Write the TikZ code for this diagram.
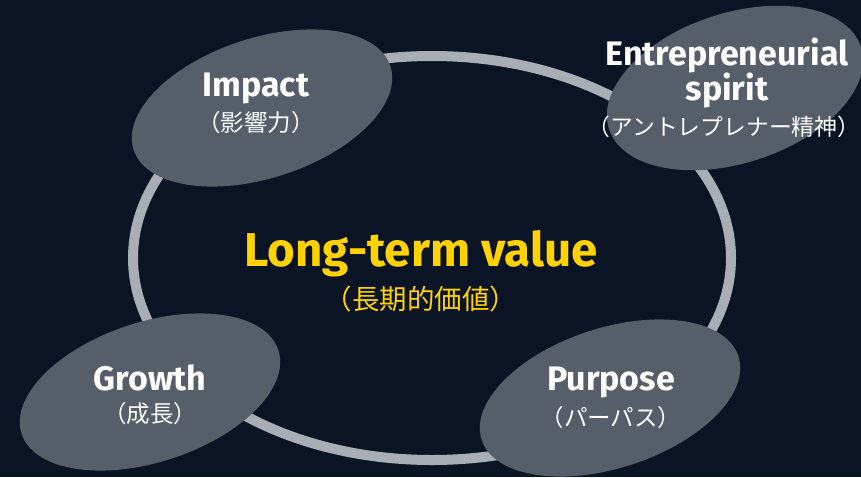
\documentclass[tikz,border=0pt]{standalone}
\usepackage{fontspec}
\setmainfont{Fira Sans}
\newfontfamily\cjk{Noto Sans CJK JP}
\usetikzlibrary{shapes.geometric}
\definecolor{bgc}{RGB}{10,20,36}
\definecolor{blobc}{RGB}{85,94,105}
\definecolor{ringc}{RGB}{169,174,181}
\definecolor{gold}{RGB}{255,210,0}
\tikzset{
  blob/.style={ellipse, fill=blobc, draw=none, inner sep=0pt, rotate=18,
    minimum width=270pt, minimum height=140pt},
  entxt/.style={text=white, font=\bfseries\fontsize{34}{38}\selectfont, inner sep=0pt},
  jptxt/.style={text=white, font=\cjk\fontsize{23.5}{26}\selectfont, inner sep=0pt},
}
\begin{document}
\begin{tikzpicture}[x=1pt,y=-1pt]
\useasboundingbox (0,0) rectangle (861,477);
\fill[bgc] (0,0) rectangle (861,477);
% ring
\node[ellipse, draw=ringc, line width=10pt, inner sep=0pt,
  minimum width=598pt, minimum height=404pt] (ring) at (432,258) {};
% blobs
\node[blob] (impact) at (262,108) {};
\node[blob, minimum width=265pt, minimum height=150pt] (entre) at (735,88) {};
\node[blob] (growth) at (150,392) {};
\node[blob] (purpose) at (610,398) {};
% texts
\node[entxt] (impactT) at (256,88) {Impact};
\node[jptxt] (impactJ) at (256,123) {（影響力）};
\node[entxt] (entreT) at (727,55) {Entrepreneurial};
\node[entxt] (entreT2) at (727,90) {spirit};
\node[jptxt, font=\cjk\fontsize{22.8}{26}\selectfont] (entreJ) at (724,127) {（アントレプレナー精神）};
\node[entxt] (growthT) at (150,378) {Growth};
\node[jptxt] (growthJ) at (150,414) {（成長）};
\node[entxt] (purposeT) at (611,382) {Purpose};
\node[jptxt] (purposeJ) at (611,418) {（パーパス）};
\node[text=gold, font=\bfseries\fontsize{47.5}{52}\selectfont, inner sep=0pt] (center) at (421,254) {Long-term value};
\node[text=gold, font=\cjk\fontsize{27.5}{30}\selectfont, inner sep=0pt] (centerJ) at (421,299) {（長期的価値）};
\end{tikzpicture}
\end{document}
